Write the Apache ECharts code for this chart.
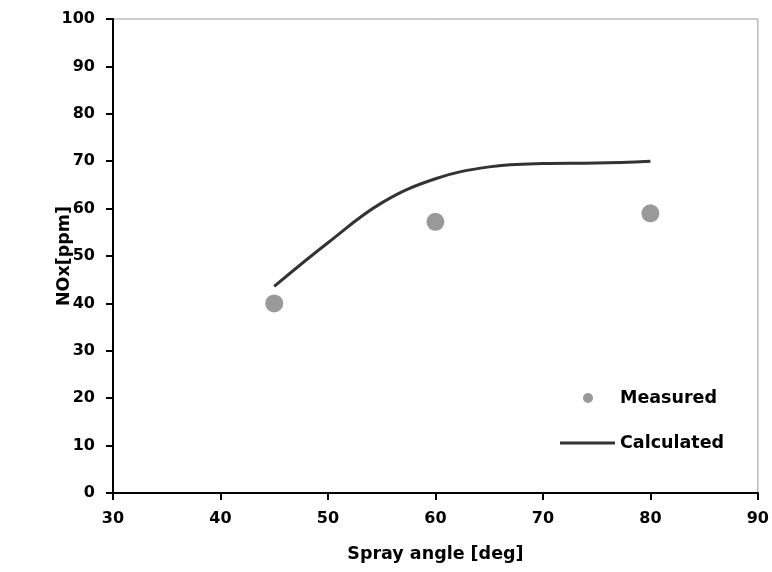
<!DOCTYPE html>
<html>
<head>
<meta charset="utf-8">
<script src="https://cdn.jsdelivr.net/npm/echarts@6/dist/echarts.min.js"></script>
<style>
    html, body { margin: 0; padding: 0; background: #fff; }
    #main { width: 772px; height: 572px; }
</style>
</head>
<body>
<div id="main"></div>
<script>
// measured points
var measuredAngle = [45, 60, 80];
var measuredNox = [40, 57.2, 59];
// calculated curve
var calcAngle = [45, 50, 55, 60, 65, 70, 75, 80];
var calcNox = [43.6, 52.8, 61.2, 66.3, 68.8, 69.5, 69.6, 70];

var chart = echarts.init(document.getElementById('main'));

var measuredData = measuredAngle.map(function (a, i) { return [a, measuredNox[i]]; });
var calcData = calcAngle.map(function (a, i) { return [a, calcNox[i]]; });

var labelFont = {
    color: '#000',
    fontFamily: 'DejaVu Sans',
    fontWeight: 'bold',
    fontSize: 16
};
var bigFont = Object.assign({}, labelFont, {fontSize: 17.5});

option = {
    backgroundColor: '#fff',
    animation: false,
    grid: {
        left: 113,
        right: 12,
        top: 19,
        bottom: 79,
        show: true,
        borderColor: '#999',
        borderWidth: 1
    },
    legend: [
        {
            data: [{name: 'Measured', icon: 'circle'}],
            left: 583,
            top: 389,
            padding: 0,
            itemWidth: 10,
            itemHeight: 10,
            textStyle: Object.assign({padding: [0, 0, 0, 22]}, bigFont)
        },
        {
            data: [{name: 'Calculated', icon: 'rect'}],
            left: 560,
            top: 434,
            padding: 0,
            itemWidth: 55,
            itemHeight: 3,
            textStyle: bigFont
        }
    ],
    xAxis: {
        type: 'value',
        min: 30,
        max: 90,
        interval: 10,
        name: 'Spray angle [deg]',
        nameLocation: 'middle',
        nameGap: 52,
        nameMoveOverlap: false,
        nameTextStyle: bigFont,
        axisLine: {show: true, lineStyle: {color: '#000', width: 2}},
        axisTick: {show: true, length: 7, lineStyle: {color: '#000', width: 2}},
        axisLabel: Object.assign({margin: 18}, labelFont),
        splitLine: {show: false}
    },
    yAxis: {
        type: 'value',
        min: 0,
        max: 100,
        interval: 10,
        name: 'NOx[ppm]',
        nameLocation: 'middle',
        nameGap: 40,
        nameMoveOverlap: false,
        nameTextStyle: bigFont,
        axisLine: {show: true, lineStyle: {color: '#000', width: 2}},
        axisTick: {show: true, length: 7, lineStyle: {color: '#000', width: 2}},
        axisLabel: Object.assign({margin: 18}, labelFont),
        splitLine: {show: false}
    },
    series: [
        {
            name: 'Measured',
            type: 'scatter',
            symbol: 'circle',
            symbolSize: 18,
            itemStyle: {color: '#808080'},
            data: measuredData
        },
        {
            name: 'Calculated',
            type: 'line',
            smooth: 0.4,
            symbol: 'none',
            lineStyle: {color: '#333', width: 3},
            itemStyle: {color: '#333'},
            data: calcData
        }
    ]
};

chart.setOption(option);
</script>
</body>
</html>
